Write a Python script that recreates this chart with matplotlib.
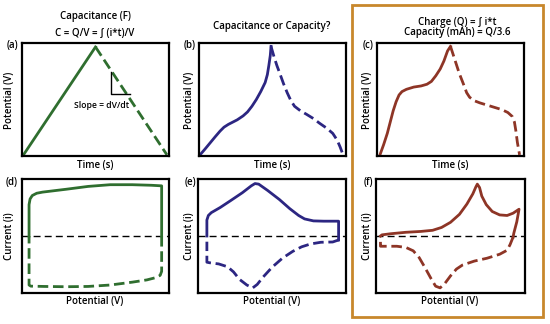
import matplotlib
matplotlib.use("Agg")
import matplotlib.pyplot as plt
from matplotlib.patches import Rectangle

plt.rcParams['font.family'] = ['Open Sans', 'DejaVu Sans']

W, H = 550, 324

# colours
green = "#2f6e2f"
navy = "#2c2682"
brown = "#8e3526"
orange = "#c8872c"

# (a) galvanostatic, capacitor
a_charge_x = [0.01, 0.50]
a_charge_y = [0.01, 0.965]
a_dis_x = [0.50, 0.986]
a_dis_y = [0.965, 0.01]

# (b) pseudocapacitor
b_charge_x = [0.007, 0.04, 0.075, 0.11, 0.143, 0.17, 0.20, 0.23, 0.26, 0.30,
              0.33, 0.36, 0.39, 0.42, 0.45, 0.465, 0.475, 0.485, 0.49]
b_charge_y = [0.01, 0.06, 0.115, 0.17, 0.22, 0.255, 0.28, 0.30, 0.32, 0.355,
              0.39, 0.44, 0.50, 0.57, 0.65, 0.72, 0.80, 0.89, 0.97]
b_dis_x = [0.49, 0.51, 0.53, 0.55, 0.575, 0.60, 0.625, 0.65, 0.69, 0.73,
           0.78, 0.82, 0.87, 0.91, 0.94, 0.96, 0.98]
b_dis_y = [0.97, 0.88, 0.80, 0.73, 0.64, 0.56, 0.49, 0.44, 0.40, 0.37,
           0.33, 0.29, 0.245, 0.20, 0.14, 0.08, 0.01]

# (c) battery
c_charge_x = [0.02, 0.045, 0.07, 0.09, 0.11, 0.13, 0.15, 0.17, 0.20, 0.25,
              0.30, 0.34, 0.37, 0.40, 0.43, 0.455, 0.48, 0.50]
c_charge_y = [0.01, 0.10, 0.20, 0.30, 0.40, 0.48, 0.54, 0.57, 0.59, 0.61,
              0.62, 0.635, 0.66, 0.71, 0.77, 0.84, 0.93, 0.97]
c_dis_x = [0.50, 0.53, 0.56, 0.59, 0.61, 0.63, 0.66, 0.70, 0.75, 0.80,
           0.85, 0.89, 0.92, 0.935, 0.945, 0.955, 0.97]
c_dis_y = [0.97, 0.85, 0.73, 0.63, 0.56, 0.52, 0.49, 0.47, 0.45, 0.43,
           0.41, 0.385, 0.35, 0.30, 0.22, 0.12, 0.01]

# (d) CV, capacitor
d_ox_x = [0.048, 0.048, 0.055, 0.07, 0.10, 0.14, 0.30, 0.45, 0.60, 0.75,
          0.88, 0.95, 0.95]
d_ox_y = [0.0, 0.55, 0.65, 0.71, 0.75, 0.77, 0.82, 0.87, 0.90, 0.90,
          0.89, 0.88, 0.0]
d_red_x = [0.95, 0.95, 0.94, 0.91, 0.85, 0.75, 0.60, 0.45, 0.30, 0.15,
           0.06, 0.048, 0.048]
d_red_y = [0.0, -0.62, -0.69, -0.73, -0.77, -0.81, -0.86, -0.885, -0.89,
           -0.885, -0.88, -0.86, 0.0]

# (e) CV, pseudocapacitor
e_ox_x = [0.06, 0.06, 0.07, 0.09, 0.15, 0.22, 0.30, 0.36, 0.385, 0.41,
          0.47, 0.55, 0.62, 0.68, 0.72, 0.78, 0.85, 0.95, 0.95]
e_ox_y = [0.0, 0.28, 0.36, 0.41, 0.50, 0.62, 0.76, 0.88, 0.92, 0.91,
          0.80, 0.64, 0.48, 0.36, 0.30, 0.265, 0.26, 0.26, -0.07]
e_red_x = [0.95, 0.91, 0.83, 0.76, 0.70, 0.64, 0.57, 0.50, 0.44, 0.40,
           0.37, 0.33, 0.28, 0.24, 0.20, 0.14, 0.08, 0.06, 0.06]
e_red_y = [-0.07, -0.105, -0.11, -0.14, -0.19, -0.27, -0.39, -0.55, -0.72,
           -0.85, -0.91, -0.86, -0.76, -0.63, -0.54, -0.49, -0.47, -0.46, -0.1]

# (f) CV, battery
f_ox_x = [0.03, 0.04, 0.10, 0.20, 0.30, 0.38, 0.44, 0.50, 0.56, 0.61,
          0.65, 0.67, 0.68, 0.695, 0.71, 0.74, 0.78, 0.83, 0.88, 0.92,
          0.96, 0.945, 0.925, 0.92]
f_ox_y = [0.0, 0.02, 0.04, 0.065, 0.08, 0.10, 0.15, 0.24, 0.38, 0.56,
          0.74, 0.86, 0.91, 0.85, 0.70, 0.55, 0.43, 0.37, 0.36, 0.40,
          0.47, 0.25, 0.05, -0.02]
f_red_x = [0.92, 0.90, 0.88, 0.83, 0.745, 0.66, 0.58, 0.54, 0.50, 0.46,
           0.43, 0.40, 0.37, 0.33, 0.29, 0.25, 0.20, 0.14, 0.04, 0.03, 0.03]
f_red_y = [-0.02, -0.15, -0.25, -0.32, -0.39, -0.44, -0.51, -0.58, -0.70,
           -0.84, -0.91, -0.88, -0.75, -0.56, -0.38, -0.26, -0.20, -0.18,
           -0.18, -0.18, 0.0]


def fx(x):
    return x / W


def fy(y):
    return 1 - y / H


def make_ax(fig, left, top, width, height):
    ax = fig.add_axes([fx(left), fy(top + height), width / W, height / H])
    ax.set_xticks([])
    ax.set_yticks([])
    for s in ax.spines.values():
        s.set_linewidth(1.6)
    return ax


fig = plt.figure(figsize=(W / 100, H / 100), dpi=100)

ax_a = make_ax(fig, 22, 43, 147, 113)
ax_b = make_ax(fig, 199, 43, 147, 113)
ax_c = make_ax(fig, 377, 43, 147, 113)
ax_d = make_ax(fig, 22, 179, 147, 114)
ax_e = make_ax(fig, 198, 179, 148, 114)
ax_f = make_ax(fig, 376, 179, 149, 114)

lw = 2.0
dash = (3.8, 1.7)

top_sets = [(ax_a, a_charge_x, a_charge_y, a_dis_x, a_dis_y, green),
            (ax_b, b_charge_x, b_charge_y, b_dis_x, b_dis_y, navy),
            (ax_c, c_charge_x, c_charge_y, c_dis_x, c_dis_y, brown)]
for ax, x1, y1, x2, y2, col in top_sets:
    ax.plot(x1, y1, color=col, lw=lw, solid_joinstyle='round')
    ax.plot(x2, y2, color=col, lw=lw, dashes=dash)
    ax.set_xlim(0, 1)
    ax.set_ylim(0, 1)

bot_sets = [(ax_d, d_ox_x, d_ox_y, d_red_x, d_red_y, green),
            (ax_e, e_ox_x, e_ox_y, e_red_x, e_red_y, navy),
            (ax_f, f_ox_x, f_ox_y, f_red_x, f_red_y, brown)]
for ax, x1, y1, x2, y2, col in bot_sets:
    ax.axhline(0, color='black', lw=1.0, dashes=(5, 3))
    ax.plot(x1, y1, color=col, lw=lw, solid_joinstyle='round')
    ax.plot(x2, y2, color=col, lw=lw, dashes=dash)
    ax.set_xlim(0, 1)
    ax.set_ylim(-1, 1)

# slope marker
ax_a.plot([0.605, 0.605, 0.735], [0.74, 0.55, 0.55], color='black', lw=1.0)
ax_a.text(0.54, 0.45, "Slope = dV/dt", fontsize=6.2, fontweight='semibold',
          ha='center', va='center')

fs = 7.0
tkw = dict(fontsize=fs, fontweight='semibold', ha='center', va='center')

# titles
fig.text(fx(95), fy(16), "Capacitance (F)", **tkw)
fig.text(fx(95), fy(33), "C = Q/V = \u222b (i*t)/V", **tkw)
fig.text(fx(272), fy(27), "Capacitance or Capacity?", **tkw)
fig.text(fx(457), fy(22), "Charge (Q) = \u222b i*t", **tkw)
fig.text(fx(457), fy(33), "Capacity (mAh) = Q/3.6", **tkw)

# panel letters
letters = ["(a)", "(b)", "(c)", "(d)", "(e)", "(f)"]
letter_x = [12, 190, 368, 12, 190, 368]
letter_y = [46, 46, 46, 182, 182, 182]
for t, x, y in zip(letters, letter_x, letter_y):
    fig.text(fx(x), fy(y), t, **tkw)

# axis labels
for x in [10, 190, 368]:
    fig.text(fx(x), fy(100), "Potential (V)", rotation=90, **tkw)
    fig.text(fx(x), fy(236), "Current (i)", rotation=90, **tkw)
for x in [95, 272, 450]:
    fig.text(fx(x), fy(165), "Time (s)", **tkw)
    fig.text(fx(x), fy(302), "Potential (V)", **tkw)

# highlight box around battery column
fig.patches.append(Rectangle((fx(352), fy(317)), (543 - 352) / W, (317 - 5) / H,
                             transform=fig.transFigure, fill=False,
                             edgecolor=orange, lw=2.0))

fig.savefig("out.png", dpi=100)
